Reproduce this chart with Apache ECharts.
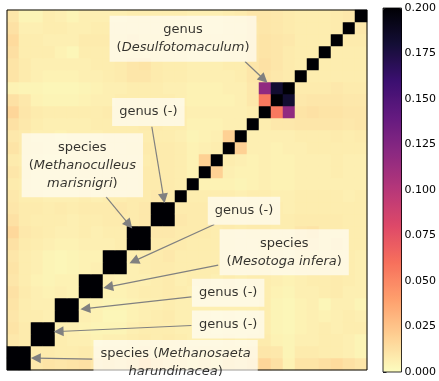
<!DOCTYPE html>
<html>
<head>
<meta charset="utf-8">
<script src="https://cdn.jsdelivr.net/npm/echarts@6/dist/echarts.min.js"></script>
<style>
  html, body { margin: 0; padding: 0; background: #fff; }
  #main { width: 439px; height: 381px; }
</style>
</head>
<body>
<div id="main"></div>
<script>
// genomes along both axes (bottom-left to top-right)
const genomes = [
  'g01', 'g02', 'g03', 'g04', 'g05', 'g06', 'g07', 'g08', 'g09', 'g10',
  'g11', 'g12', 'g13', 'g14', 'g15', 'g16', 'g17', 'g18', 'g19', 'g20',
  'g21', 'g22', 'g23', 'g24', 'g25', 'g26', 'g27', 'g28', 'g29', 'g30'
];

// lower triangle of the similarity matrix, row r holds columns 0..r (diagonal last)
const simRows = [
  [0.2],
  [0.2, 0.2],
  [0.009, 0.008, 0.2],
  [0.011, 0.008, 0.2, 0.2],
  [0.010, 0.007, 0.007, 0.006, 0.2],
  [0.011, 0.007, 0.006, 0.006, 0.2, 0.2],
  [0.012, 0.008, 0.006, 0.005, 0.006, 0.005, 0.2],
  [0.010, 0.007, 0.005, 0.004, 0.005, 0.005, 0.2, 0.2],
  [0.011, 0.007, 0.006, 0.004, 0.003, 0.004, 0.005, 0.006, 0.2],
  [0.010, 0.007, 0.006, 0.004, 0.003, 0.004, 0.005, 0.005, 0.2, 0.2],
  [0.012, 0.008, 0.007, 0.006, 0.005, 0.005, 0.006, 0.006, 0.006, 0.007, 0.2],
  [0.016, 0.009, 0.008, 0.007, 0.006, 0.006, 0.007, 0.006, 0.007, 0.007, 0.2, 0.2],
  [0.012, 0.008, 0.007, 0.007, 0.007, 0.006, 0.007, 0.007, 0.008, 0.008, 0.008, 0.009, 0.2],
  [0.010, 0.008, 0.008, 0.007, 0.008, 0.007, 0.008, 0.008, 0.008, 0.009, 0.008, 0.009, 0.2, 0.2],
  [0.009, 0.007, 0.007, 0.006, 0.006, 0.006, 0.007, 0.006, 0.007, 0.007, 0.008, 0.008, 0.009, 0.008, 0.2],
  [0.008, 0.007, 0.006, 0.006, 0.006, 0.006, 0.006, 0.007, 0.007, 0.007, 0.007, 0.008, 0.008, 0.008, 0.007, 0.2],
  [0.010, 0.008, 0.006, 0.006, 0.006, 0.006, 0.007, 0.007, 0.007, 0.007, 0.007, 0.008, 0.008, 0.008, 0.007,
   0.005, 0.2],
  [0.008, 0.007, 0.006, 0.005, 0.005, 0.006, 0.006, 0.006, 0.007, 0.007, 0.007, 0.007, 0.008, 0.008, 0.007,
   0.005, 0.019, 0.2],
  [0.011, 0.008, 0.007, 0.006, 0.006, 0.006, 0.007, 0.007, 0.007, 0.007, 0.008, 0.008, 0.008, 0.008, 0.007,
   0.005, 0.006, 0.007, 0.2],
  [0.009, 0.008, 0.006, 0.006, 0.005, 0.006, 0.006, 0.006, 0.007, 0.007, 0.007, 0.007, 0.007, 0.007, 0.006,
   0.004, 0.005, 0.006, 0.019, 0.2],
  [0.012, 0.009, 0.007, 0.006, 0.006, 0.006, 0.006, 0.007, 0.007, 0.007, 0.007, 0.008, 0.008, 0.007, 0.007,
   0.005, 0.005, 0.005, 0.006, 0.006, 0.2],
  [0.017, 0.010, 0.008, 0.007, 0.007, 0.007, 0.007, 0.007, 0.008, 0.008, 0.008, 0.008, 0.008, 0.008, 0.007,
   0.006, 0.006, 0.006, 0.006, 0.006, 0.007, 0.2],
  [0.012, 0.009, 0.005, 0.004, 0.004, 0.004, 0.005, 0.006, 0.006, 0.007, 0.007, 0.007, 0.007, 0.007, 0.006,
   0.005, 0.005, 0.005, 0.005, 0.006, 0.009, 0.056, 0.2],
  [0.005, 0.004, 0.004, 0.003, 0.003, 0.003, 0.004, 0.005, 0.006, 0.006, 0.007, 0.007, 0.007, 0.006, 0.006,
   0.005, 0.005, 0.005, 0.006, 0.006, 0.009, 0.118, 0.182, 0.2],
  [0.011, 0.008, 0.006, 0.005, 0.005, 0.005, 0.006, 0.006, 0.007, 0.008, 0.010, 0.010, 0.008, 0.007, 0.007,
   0.006, 0.006, 0.006, 0.006, 0.007, 0.010, 0.011, 0.009, 0.008, 0.2],
  [0.011, 0.008, 0.006, 0.006, 0.006, 0.006, 0.006, 0.007, 0.007, 0.008, 0.010, 0.011, 0.008, 0.007, 0.007,
   0.006, 0.006, 0.006, 0.007, 0.007, 0.010, 0.012, 0.010, 0.008, 0.007, 0.2],
  [0.013, 0.007, 0.007, 0.007, 0.005, 0.003, 0.007, 0.007, 0.007, 0.007, 0.008, 0.008, 0.008, 0.007, 0.007,
   0.006, 0.006, 0.006, 0.007, 0.007, 0.010, 0.011, 0.010, 0.008, 0.007, 0.007, 0.2],
  [0.015, 0.007, 0.007, 0.006, 0.006, 0.006, 0.008, 0.008, 0.008, 0.008, 0.009, 0.008, 0.008, 0.007, 0.007,
   0.006, 0.007, 0.007, 0.007, 0.008, 0.010, 0.011, 0.010, 0.009, 0.007, 0.007, 0.007, 0.2],
  [0.012, 0.006, 0.006, 0.007, 0.007, 0.006, 0.006, 0.007, 0.007, 0.007, 0.007, 0.007, 0.007, 0.007, 0.006,
   0.006, 0.006, 0.006, 0.007, 0.007, 0.009, 0.010, 0.009, 0.008, 0.007, 0.007, 0.007, 0.008, 0.2],
  [0.010, 0.004, 0.004, 0.007, 0.006, 0.004, 0.006, 0.006, 0.006, 0.006, 0.007, 0.007, 0.007, 0.007, 0.007,
   0.006, 0.006, 0.006, 0.007, 0.008, 0.010, 0.010, 0.009, 0.008, 0.007, 0.007, 0.007, 0.008, 0.009, 0.2]
];

// colour bar ticks
const barMin = 0;
const barMax = 0.2;
const barStep = 0.025;

// magma, reversed (low = pale yellow, high = black)
const magmaR = ['#fcfdbf', '#fecf92', '#fe9f6d', '#f7705c', '#de4968', '#b73779',
                '#8c2981', '#641a80', '#3b0f70', '#140e36', '#000004'];

// annotation labels; positions in cell units (x from left, y from bottom)
const notes = [
  { text: '{n|genus}\n{n|(}{i|Desulfotomaculum}{n|)}', at: [14.67, 27.61], from: [19.83, 25.71], to: [21.4, 24.23] },
  { text: '{n|genus (-)}', at: [11.78, 21.51], from: [12.07, 20.27], to: [13.06, 14.3] },
  { text: '{n|species}\n{n|(}{i|Methanoculleus}\n{i|marisnigri}{n|)}', at: [6.28, 17.06], from: [8.26, 14.42], to: [10.17, 12.12] },
  { text: '{n|genus (-)}', at: [19.75, 13.27], from: [17.27, 12.12], to: [10.58, 9.07] },
  { text: '{n|species}\n{n|(}{i|Mesotoga infera}{n|)}', at: [23.1, 9.81], from: [17.6, 8.74], to: [8.43, 6.92] },
  { text: '{n|genus (-)}', at: [18.43, 6.43], from: [15.37, 6.1], to: [6.53, 5.11] },
  { text: '{n|genus (-)}', at: [18.43, 3.79], from: [15.37, 3.71], to: [4.3, 3.21] },
  { text: '{n|species (}{i|Methanosaeta}\n{i|harundinacea}{n|)}', at: [14.05, 0.58], from: [7.11, 0.91], to: [2.4, 0.99] }
];

const cells = [];
simRows.forEach((row, r) => {
  row.forEach((v, c) => {
    cells.push([c, r, v]);
    if (c !== r) cells.push([r, c, v]);
  });
});

const chart = echarts.init(document.getElementById('main'));
const font = 'DejaVu Sans';
// whole-pixel cells (12 px) so neighbouring black cells leave no seams
const plot = { left: 7, top: 10, width: 360, height: 360 };
const bar = { left: 383, top: 8, width: 19, height: 364 };

const option = {
  animation: false,
  grid: [
    { ...plot },
    { ...bar, show: true, borderColor: '#000', borderWidth: 0.8, backgroundColor: 'transparent', z: 6 },
    { ...plot, show: true, borderColor: '#000', borderWidth: 1, backgroundColor: 'transparent', z: 3 }
  ],
  xAxis: [
    { type: 'category', data: genomes, gridIndex: 0, show: false },
    { type: 'value', gridIndex: 1, show: false },
    { type: 'value', gridIndex: 2, min: 0, max: genomes.length, show: false }
  ],
  yAxis: [
    { type: 'category', data: genomes, gridIndex: 0, show: false },
    {
      type: 'value',
      gridIndex: 1,
      position: 'right',
      min: barMin,
      max: barMax,
      interval: barStep,
      axisLine: { show: false },
      axisTick: { show: true, length: 3.5, lineStyle: { color: '#000', width: 0.8 } },
      axisLabel: {
        fontSize: 11,
        fontFamily: font,
        color: '#000',
        margin: 3,
        formatter: (v) => v.toFixed(3)
      },
      splitLine: { show: false }
    },
    { type: 'value', gridIndex: 2, min: 0, max: genomes.length, show: false }
  ],
  visualMap: {
    type: 'continuous',
    seriesIndex: 0,
    min: barMin,
    max: barMax,
    calculable: false,
    orient: 'vertical',
    left: bar.left,
    top: bar.top,
    itemWidth: bar.width,
    itemHeight: bar.height,
    padding: 0,
    inRange: { color: magmaR }
  },
  series: [
    {
      type: 'heatmap',
      xAxisIndex: 0,
      yAxisIndex: 0,
      data: cells,
      itemStyle: { borderWidth: 0 },
      emphasis: { disabled: true },
      silent: true
    },
    {
      type: 'lines',
      coordinateSystem: 'cartesian2d',
      xAxisIndex: 2,
      yAxisIndex: 2,
      z: 5,
      silent: true,
      symbol: ['none', 'triangle'],
      symbolSize: [8, 10],
      lineStyle: { color: '#808080', width: 1.2, opacity: 1 },
      data: notes.map((n) => ({ coords: [n.from, n.to] }))
    },
    {
      type: 'scatter',
      xAxisIndex: 2,
      yAxisIndex: 2,
      z: 10,
      clip: false,
      silent: true,
      symbolSize: 0,
      data: notes.map((n) => ({ value: n.at, label: { formatter: n.text } })),
      label: {
        show: true,
        position: 'inside',
        align: 'center',
        verticalAlign: 'middle',
        backgroundColor: 'rgba(255,255,255,0.78)',
        padding: [5, 7],
        rich: {
          n: { fontFamily: font, fontSize: 13, lineHeight: 18, color: '#000' },
          i: { fontFamily: font, fontSize: 13, lineHeight: 18, color: '#000', fontStyle: 'italic' }
        }
      }
    }
  ]
};

chart.setOption(option);
</script>
</body>
</html>
